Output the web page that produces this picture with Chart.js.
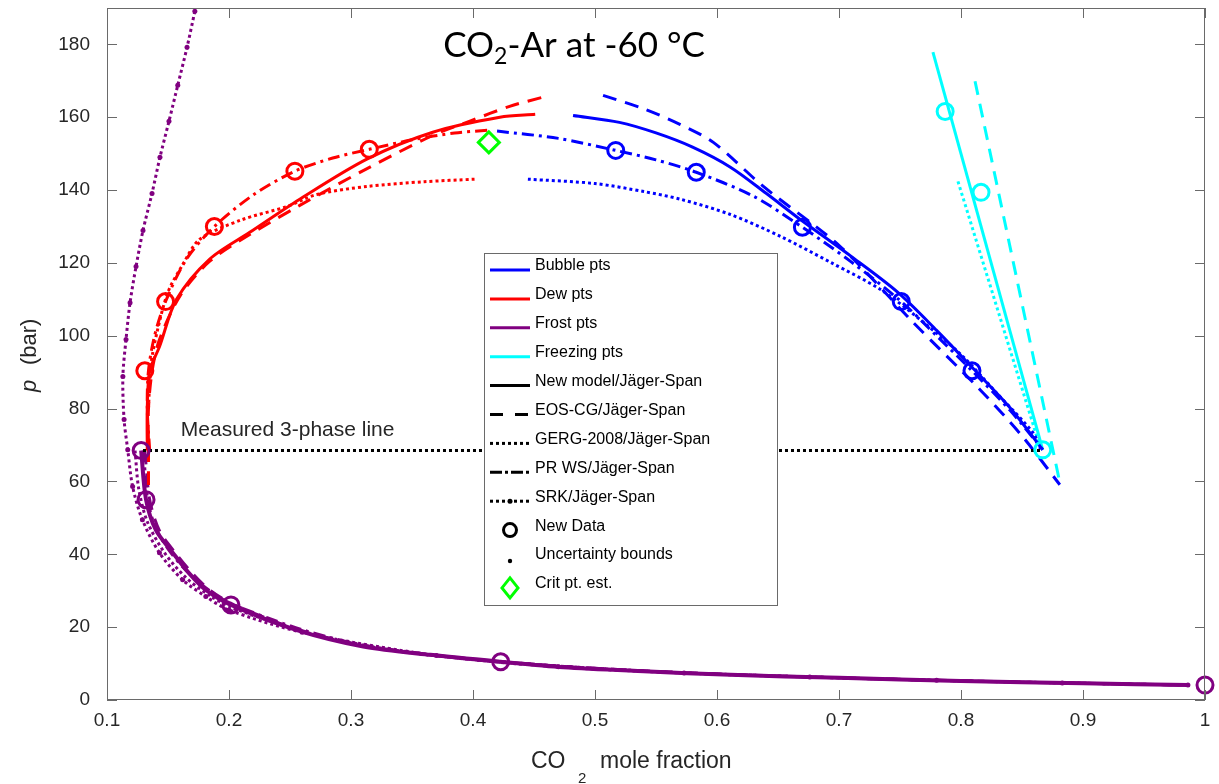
<!DOCTYPE html>
<html>
<head>
<meta charset="utf-8">
<script src="https://cdn.jsdelivr.net/npm/chart.js@4.4.0/dist/chart.umd.min.js"></script>
<style>
html, body { margin: 0; padding: 0; background: #fff; }
#wrap { position: relative; width: 1219px; height: 784px; }
</style>
</head>
<body>
<div id="wrap"><canvas id="chart" width="1219" height="784"></canvas></div>
<script>
// axis ticks
const xTicks = [0.1, 0.2, 0.3, 0.4, 0.5, 0.6, 0.7, 0.8, 0.9, 1.0];
const yTicks = [0, 20, 40, 60, 80, 100, 120, 140, 160, 180];

// measured points [CO2 fraction, p bar]
const bubbleData = [[0.517, 150.9], [0.583, 144.9], [0.670, 129.8], [0.751, 109.4], [0.809, 90.4]];
const dewData = [[0.131, 90.4], [0.148, 109.4], [0.188, 130.0], [0.254, 145.2], [0.315, 151.2]];
const frostData = [[0.128, 68.5], [0.132, 55.0], [0.2016, 26.1], [0.4227, 10.5], [1.0, 4.1]];
const freezingData = [[0.787, 161.6], [0.8164, 139.4], [0.867, 68.7]];
const critPoint = [[0.413, 153.1]];
const threePhase = [[0.1295, 68.5], [0.865, 68.5]];

// dew curves
const dewNew = [[0.133, 68.5], [0.133, 80], [0.135, 90.4], [0.143, 97], [0.157, 110], [0.184, 121], [0.217, 128.4],
  [0.258, 137.5], [0.313, 148.5], [0.367, 155.9], [0.422, 160], [0.451, 160.8]];
const dewEos = [[0.134, 59], [0.134, 68.5], [0.134, 80], [0.137, 90.4], [0.143, 99], [0.160, 111], [0.184, 120.4],
  [0.217, 127.8], [0.258, 135.8], [0.312, 145.7], [0.367, 155], [0.398, 159], [0.430, 163], [0.457, 165.5]];
const dewGerg = [[0.134, 80], [0.136, 92], [0.141, 101], [0.150, 112], [0.162, 119.5], [0.176, 126.5], [0.21, 131.8],
  [0.2475, 135.5], [0.272, 138.8], [0.313, 141], [0.36, 142.3], [0.4016, 143]];
const dewPr = [[0.135, 68.5], [0.133, 80], [0.134, 90.4], [0.139, 100], [0.148, 109.4], [0.165, 121], [0.188, 130],
  [0.22, 138.7], [0.254, 145.2], [0.285, 148.8], [0.315, 151.2], [0.35, 153.8], [0.385, 155.7], [0.415, 156.5]];

// bubble curves
const bubbleNew = [[0.482, 160.5], [0.52, 158.6], [0.55, 155.7], [0.58, 151.8], [0.611, 146.3], [0.64, 139.2],
  [0.67, 131.5], [0.71, 121.8], [0.748, 112], [0.78, 101.5], [0.81, 91], [0.84, 80.3], [0.867, 68.7]];
const bubbleEos = [[0.5066, 166], [0.54, 162.3], [0.570, 158], [0.597, 153.1], [0.638, 141], [0.701, 124.5],
  [0.761, 103.6], [0.8156, 85.2], [0.85, 72.5], [0.881, 59.1]];
const bubbleGerg = [[0.445, 143], [0.50, 141.8], [0.54, 139.6], [0.570, 137.5], [0.611, 133.3], [0.652, 127.3],
  [0.694, 120], [0.734, 112.7], [0.77, 103.5], [0.8016, 94.3], [0.83, 84], [0.859, 73.4], [0.865, 69]];
const bubblePr = [[0.4197, 156.2], [0.47, 154.2], [0.517, 150.9], [0.55, 148.3], [0.583, 144.9], [0.63, 138.3],
  [0.670, 129.8], [0.71, 120.3], [0.751, 109.4], [0.78, 100], [0.809, 90.4], [0.84, 79.6], [0.867, 68.7]];

// freezing curves
const freezingNew = [[0.777, 177.9], [0.867, 68.7]];
const freezingEos = [[0.8115, 169.9], [0.881, 59.7]];
const freezingGerg = [[0.7975, 142.4], [0.865, 69.3]];

// frost curves
const frostNew = [[0.128, 68.5], [0.132, 55], [0.140, 46.7], [0.154, 40.4], [0.167, 34.9], [0.181, 30.2], [0.2016, 26.1],
  [0.2555, 19.2], [0.31, 14.7], [0.365, 12.4], [0.4227, 10.5], [0.474, 9.0], [0.54, 7.9], [0.611, 6.9],
  [0.70, 6.1], [0.80, 5.2], [0.90, 4.6], [0.986, 4.1]];
const frostEos = [[0.131, 68.5], [0.135, 55], [0.143, 46.5], [0.157, 40], [0.17, 34.8], [0.185, 30], [0.205, 26],
  [0.26, 19], [0.32, 14.4], [0.42, 10.6], [0.55, 7.8], [0.70, 6.1], [0.85, 4.9], [0.986, 4.1]];
const frostPr = [[0.130, 68.5], [0.133, 56], [0.139, 48], [0.150, 41.5], [0.165, 35.5], [0.185, 29.8], [0.203, 26.3],
  [0.26, 19.3], [0.32, 14.5], [0.42, 10.6], [0.55, 7.8], [0.70, 6.1], [0.85, 4.9], [0.986, 4.1]];
const frostGerg = [[0.123, 68.5], [0.126, 58], [0.133, 49], [0.147, 40.5], [0.165, 33.5], [0.185, 28.5],
  [0.203, 25.3], [0.26, 18.9], [0.32, 14.3], [0.42, 10.5], [0.55, 7.8], [0.70, 6.1], [0.85, 4.9], [0.986, 4.1]];
const frostSrk = [[0.172, 189.1], [0.1656, 179.2], [0.158, 168.8], [0.1508, 158.9], [0.1434, 149], [0.1369, 139.1],
  [0.1295, 128.9], [0.1238, 119], [0.1189, 109.1], [0.1156, 99], [0.113, 88.8], [0.114, 77], [0.117, 68.7],
  [0.121, 58.6], [0.129, 49.5], [0.143, 40.4], [0.162, 33], [0.181, 28.4], [0.200, 24.7], [0.26, 18.6],
  [0.37, 12.2], [0.47, 9.1], [0.573, 7.4], [0.676, 6.3], [0.78, 5.4], [0.883, 4.7], [0.986, 4.1]];

const blue = '#0000ff', red = '#ff0000', purple = '#800080', cyan = '#00ffff', green = '#00ff00';
const solid = [], dashed = [14, 9], dotted = [3, 3], dashDot = [12, 5, 3, 5];
const axisColor = '#6a6a6a', textColor = '#262626';
const mFont = "'Liberation Sans', Arial, sans-serif";

function pts(arr) { return arr.map(p => ({ x: p[0], y: p[1] })); }

function curve(label, data, color, dash, extra) {
    return Object.assign({
        label: label, data: pts(data), showLine: true,
        borderColor: color, backgroundColor: color, borderWidth: 3,
        borderDash: dash, borderCapStyle: 'butt', pointRadius: 0,
        tension: 0.3, fill: false
    }, extra || {});
}

function markers(label, data, color, style, r) {
    return {
        label: label, data: pts(data), showLine: false, clip: false,
        pointStyle: style || 'circle', pointRadius: r || 8, pointBorderWidth: 3,
        pointBorderColor: color, pointBackgroundColor: 'rgba(0,0,0,0)',
        borderColor: color, backgroundColor: 'rgba(0,0,0,0)'
    };
}

const datasets = [
    markers('Crit pt. est.', critPoint, green, 'rectRot', 10.5),
    markers('Bubble data', bubbleData, blue),
    markers('Dew data', dewData, red),
    markers('Frost data', frostData, purple),
    markers('Freezing data', freezingData, cyan),
    curve('3-phase', threePhase, '#000000', dotted, { tension: 0 }),
    curve('Dew new', dewNew, red, solid),
    curve('Dew EOS-CG', dewEos, red, dashed),
    curve('Dew GERG', dewGerg, red, dotted),
    curve('Dew PR', dewPr, red, dashDot),
    curve('Bubble new', bubbleNew, blue, solid),
    curve('Bubble EOS-CG', bubbleEos, blue, dashed),
    curve('Bubble GERG', bubbleGerg, blue, dotted),
    curve('Bubble PR', bubblePr, blue, dashDot),
    curve('Freezing new', freezingNew, cyan, solid, { tension: 0 }),
    curve('Freezing EOS-CG', freezingEos, cyan, dashed, { tension: 0 }),
    curve('Freezing GERG', freezingGerg, cyan, dotted, { tension: 0 }),
    curve('Frost new', frostNew, purple, solid, { borderWidth: 4 }),
    curve('Frost EOS-CG', frostEos, purple, dashed),
    curve('Frost PR', frostPr, purple, dashDot),
    curve('Frost GERG', frostGerg, purple, dotted),
    curve('Frost SRK', frostSrk, purple, dotted, { pointRadius: 2.5, pointBorderWidth: 0, pointBackgroundColor: purple })
];

// legend entries drawn inside the axes
const legendItems = [
    { text: 'Bubble pts', color: blue, dash: solid },
    { text: 'Dew pts', color: red, dash: solid },
    { text: 'Frost pts', color: purple, dash: solid },
    { text: 'Freezing pts', color: cyan, dash: solid },
    { text: 'New model/Jäger-Span', color: '#000', dash: solid },
    { text: 'EOS-CG/Jäger-Span', color: '#000', dash: [13, 12] },
    { text: 'GERG-2008/Jäger-Span', color: '#000', dash: dotted },
    { text: 'PR WS/Jäger-Span', color: '#000', dash: [12, 3, 3, 3] },
    { text: 'SRK/Jäger-Span', color: '#000', dash: dotted, dot: true },
    { text: 'New Data', marker: 'circle' },
    { text: 'Uncertainty bounds', marker: 'dot' },
    { text: 'Crit pt. est.', marker: 'diamond' }
];

const decorPlugin = {
    id: 'decor',
    afterDraw(chart) {
        const ctx = chart.ctx;
        const a = chart.chartArea;
        const xs = chart.scales.x, ys = chart.scales.y;
        const tl = 10;
        ctx.save();
        // box and inward ticks
        ctx.strokeStyle = axisColor;
        ctx.lineWidth = 1;
        ctx.setLineDash([]);
        ctx.strokeRect(a.left + 0.5, a.top + 0.5, a.right - a.left - 1, a.bottom - a.top - 1);
        ctx.beginPath();
        xTicks.forEach(v => {
            const px = Math.round(xs.getPixelForValue(v)) + 0.5;
            ctx.moveTo(px, a.bottom); ctx.lineTo(px, a.bottom - tl);
            ctx.moveTo(px, a.top); ctx.lineTo(px, a.top + tl);
        });
        yTicks.forEach(v => {
            const py = Math.round(ys.getPixelForValue(v)) + 0.5;
            ctx.moveTo(a.left, py); ctx.lineTo(a.left + tl, py);
            ctx.moveTo(a.right, py); ctx.lineTo(a.right - tl, py);
        });
        ctx.stroke();

        // title with subscript
        ctx.fillStyle = '#000';
        ctx.textBaseline = 'alphabetic';
        ctx.textAlign = 'left';
        const big = "35px Lato, 'Open Sans', sans-serif";
        const small = "23px Lato, 'Open Sans', sans-serif";
        ctx.font = big;
        const w1 = ctx.measureText('CO').width;
        const w3 = ctx.measureText('-Ar at -60 °C').width;
        ctx.font = small;
        const w2 = ctx.measureText('2').width;
        let tx = 574 - (w1 + w2 + w3) / 2;
        const tb = 57;
        ctx.font = big; ctx.fillText('CO', tx, tb); tx += w1;
        ctx.font = small; ctx.fillText('2', tx, tb + 7); tx += w2;
        ctx.font = big; ctx.fillText('-Ar at -60 °C', tx, tb);

        // annotation on the 3-phase line
        ctx.font = '21px ' + mFont;
        ctx.fillStyle = textColor;
        ctx.fillText('Measured 3-phase line', xs.getPixelForValue(0.1605), ys.getPixelForValue(72.5));

        // x axis title
        ctx.font = '23px ' + mFont;
        ctx.fillText('CO', 531, 768);
        ctx.font = '15px ' + mFont;
        ctx.fillText('2', 578, 783);
        ctx.font = '23px ' + mFont;
        ctx.fillText('mole fraction', 600, 768);

        // y axis title
        ctx.save();
        ctx.translate(30, 392);
        ctx.rotate(-Math.PI / 2);
        ctx.textBaseline = 'middle';
        ctx.font = 'italic 22px ' + mFont;
        ctx.fillText('p', 0, 0);
        ctx.font = '22px ' + mFont;
        ctx.fillText('(bar)', 27, 0);
        ctx.restore();

        // legend
        const lx = 484, ly = 253, lw = 293, lh = 352;
        ctx.fillStyle = '#fff';
        ctx.fillRect(lx, ly, lw, lh);
        ctx.strokeStyle = axisColor;
        ctx.lineWidth = 1;
        ctx.strokeRect(lx + 0.5, ly + 0.5, lw, lh);
        ctx.font = '16px ' + mFont;
        ctx.textBaseline = 'middle';
        legendItems.forEach((it, i) => {
            const cy = 270 + i * 28.9;
            if (it.marker) {
                ctx.setLineDash([]);
                ctx.strokeStyle = it.marker === 'diamond' ? green : '#000';
                ctx.fillStyle = '#000';
                ctx.lineWidth = 3;
                if (it.marker === 'circle') {
                    ctx.beginPath(); ctx.arc(510, cy, 6.5, 0, Math.PI * 2); ctx.stroke();
                } else if (it.marker === 'dot') {
                    ctx.beginPath(); ctx.arc(510, cy + 2, 2.2, 0, Math.PI * 2); ctx.fill();
                } else {
                    ctx.beginPath();
                    ctx.moveTo(510, cy - 10); ctx.lineTo(518, cy); ctx.lineTo(510, cy + 10); ctx.lineTo(502, cy);
                    ctx.closePath(); ctx.stroke();
                }
            } else {
                ctx.strokeStyle = it.color;
                ctx.lineWidth = 3;
                ctx.lineCap = 'butt';
                ctx.setLineDash(it.dash);
                ctx.beginPath(); ctx.moveTo(490, cy); ctx.lineTo(530, cy); ctx.stroke();
                ctx.setLineDash([]);
                if (it.dot) {
                    ctx.fillStyle = it.color;
                    ctx.beginPath(); ctx.arc(510, cy, 2.5, 0, Math.PI * 2); ctx.fill();
                }
            }
            ctx.fillStyle = '#000';
            ctx.fillText(it.text, 535, cy - 4);
        });
        ctx.restore();
    }
};

new Chart(document.getElementById('chart'), {
    type: 'scatter',
    data: { datasets: datasets },
    options: {
        responsive: false,
        animation: false,
        devicePixelRatio: 1,
        layout: { autoPadding: false, padding: { top: 8, right: 14, left: 0, bottom: 0 } },
        plugins: {
            legend: { display: false },
            tooltip: { enabled: false }
        },
        scales: {
            x: {
                type: 'linear', min: 0.1, max: 1.0,
                grid: { display: false, drawTicks: false },
                border: { display: false },
                afterBuildTicks: s => { s.ticks = xTicks.map(v => ({ value: v })); },
                afterFit: s => { s.height = 84; s.paddingLeft = 0; s.paddingRight = 0; },
                ticks: {
                    padding: 9, color: textColor, font: { family: mFont, size: 19 },
                    callback: v => String(Number(v.toFixed(1)))
                }
            },
            y: {
                type: 'linear', min: 0, max: 190,
                grid: { display: false, drawTicks: false },
                border: { display: false },
                afterBuildTicks: s => { s.ticks = yTicks.map(v => ({ value: v })); },
                afterFit: s => { s.width = 107; s.paddingTop = 0; s.paddingBottom = 0; },
                ticks: {
                    padding: 17, color: textColor, font: { family: mFont, size: 19 }
                }
            }
        }
    },
    plugins: [decorPlugin]
});
</script>
</body>
</html>
